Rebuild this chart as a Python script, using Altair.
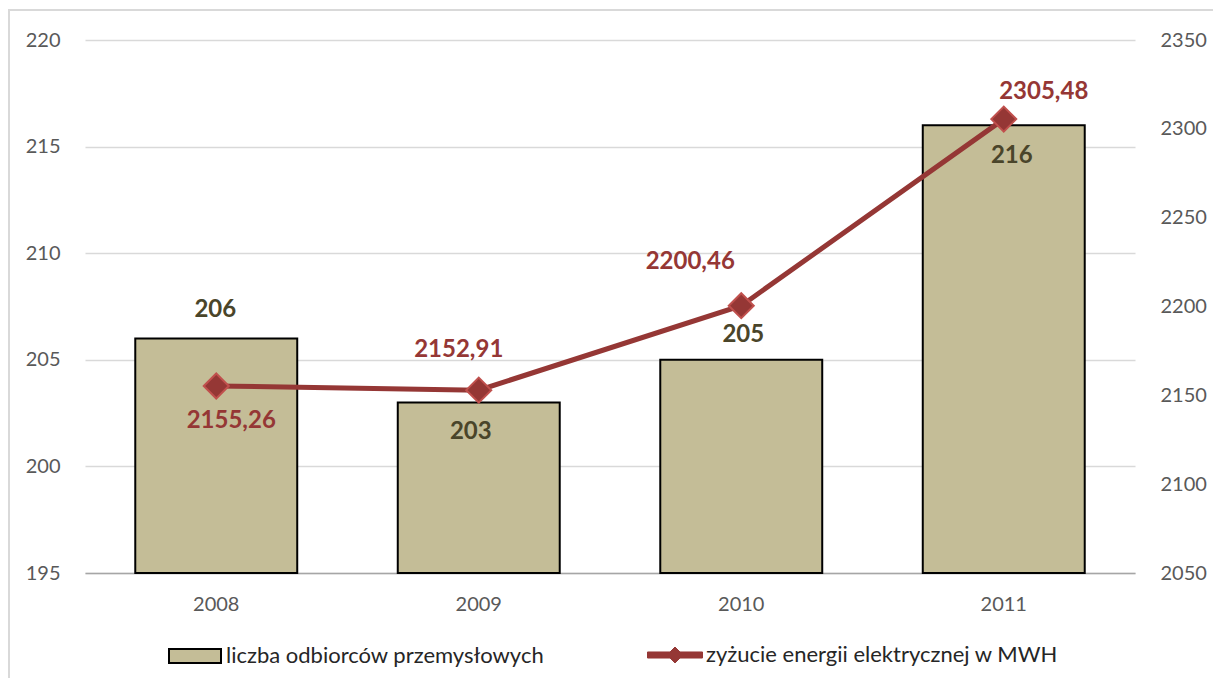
import altair as alt
import pandas as pd

years = ["2008", "2009", "2010", "2011"]
customers = [206, 203, 205, 216]
energy = [2155.26, 2152.91, 2200.46, 2305.48]
bar_name = "liczba odbiorców przemysłowych"
line_name = "zyżucie energii elektrycznej w MWH"
left_ticks = [195, 200, 205, 210, 215, 220]
right_ticks = [2050, 2100, 2150, 2200, 2250, 2300, 2350]

df = pd.DataFrame({"year": years, "customers": customers, "energy": energy})
df["bar_s"] = bar_name
df["line_s"] = line_name

FONT = "Lato"
BAR_FILL = "#C4BD97"
LINE_COL = "#953735"
MARK_STROKE = "#C0504D"
BAR_TXT = "#4A452A"
AXIS_TXT = "#595959"
GRID = "#D9D9D9"

x_enc = alt.X(
    "year:N",
    sort=years,
    scale=alt.Scale(paddingInner=0, paddingOuter=0),
    axis=alt.Axis(
        title=None, labelAngle=0, ticks=False, grid=False,
        domainColor="#A6A6A6", domainWidth=1.5,
        labelFontSize=20, labelColor=AXIS_TXT, labelPadding=21, labelFont=FONT,
    ),
)

y_left = alt.Y(
    "customers:Q",
    scale=alt.Scale(domain=[195, 220], zero=False, nice=False),
    axis=alt.Axis(
        title=None, orient="left", values=left_ticks, grid=True, gridColor=GRID,
        gridWidth=1.5, domain=False, ticks=False, labelPadding=25, format="d",
        labelFontSize=20, labelColor=AXIS_TXT, labelFont=FONT,
    ),
)

y_right = alt.Y(
    "energy:Q",
    scale=alt.Scale(domain=[2050, 2350], zero=False, nice=False),
    axis=alt.Axis(
        title=None, orient="right", values=right_ticks, grid=False,
        domain=False, ticks=False, labelPadding=25, format="d",
        labelFontSize=20, labelColor=AXIS_TXT, labelFont=FONT,
    ),
)

base = alt.Chart(df)

# outer chart frame: top and left edges (the rest lies outside the page)
frame_top = alt.Chart(pd.DataFrame({"k": [0]})).mark_rule(
    stroke=GRID, strokeWidth=2
).encode(x=alt.value(-77), x2=alt.value(1400), y=alt.value(-30))
frame_left = alt.Chart(pd.DataFrame({"k": [0]})).mark_rule(
    stroke=GRID, strokeWidth=2
).encode(x=alt.value(-76), y=alt.value(-30), y2=alt.value(900))

bar_symbol = "M-1,-0.27L1,-0.27L1,0.27L-1,0.27Z"
bars = base.mark_bar(
    fill=BAR_FILL, stroke="black", strokeWidth=2,
    width=alt.RelativeBandSize(0.617),
).encode(
    x=x_enc,
    y=y_left,
    y2=alt.datum(195),
    fill=alt.Fill(
        "bar_s:N",
        scale=alt.Scale(domain=[bar_name], range=[BAR_FILL]),
        legend=alt.Legend(
            title=None, orient="none", legendX=83, legendY=589, padding=0,
            symbolType=bar_symbol, symbolSize=2704, labelOffset=4,
            symbolFillColor=BAR_FILL, symbolStrokeColor="black",
            symbolStrokeWidth=2, symbolOpacity=1, labelLimit=600,
            labelFontSize=22, labelColor="#262626", labelFont=FONT,
        ),
    ),
)


def bar_label(year, dx, dy):
    return base.transform_filter(alt.datum.year == year).mark_text(
        dx=dx, dy=dy, fontSize=24, fontWeight="bold", color=BAR_TXT, font=FONT,
        baseline="middle",
    ).encode(x=x_enc, y=y_left, text=alt.Text("customers:Q"))


bar_layer = alt.layer(
    bars,
    bar_label("2008", -1, -28),
    bar_label("2009", -8, 30),
    bar_label("2010", 2, -25),
    bar_label("2011", 8, 31),
)

line_symbol = ("M-1,-0.11L-0.18,-0.11L0,-0.29L0.18,-0.11L1,-0.11L1,0.11"
               "L0.18,0.11L0,0.29L-0.18,0.11L-1,0.11Z")
line = base.mark_line(strokeWidth=5, color=LINE_COL).encode(
    x=x_enc,
    y=y_right,
    stroke=alt.Stroke(
        "line_s:N",
        scale=alt.Scale(domain=[line_name], range=[LINE_COL]),
        legend=alt.Legend(
            title=None, orient="none", legendX=562, legendY=587, padding=0,
            symbolType=line_symbol, symbolSize=3025, labelOffset=3,
            symbolFillColor=LINE_COL, symbolStrokeColor=MARK_STROKE,
            symbolStrokeWidth=1, symbolOpacity=1, labelLimit=600,
            labelFontSize=22, labelColor="#262626", labelFont=FONT,
        ),
    ),
)

points = base.mark_point(
    shape="diamond", filled=True, size=625, fill=LINE_COL,
    stroke=MARK_STROKE, strokeWidth=2, opacity=1,
).encode(x=x_enc, y=y_right)


def line_label(year, dx, dy):
    return base.transform_filter(alt.datum.year == year).transform_calculate(
        lbl="replace(format(datum.energy, '.2f'), '.', ',')"
    ).mark_text(
        dx=dx, dy=dy, fontSize=24, fontWeight="bold", color=LINE_COL, font=FONT,
        baseline="middle",
    ).encode(x=x_enc, y=y_right, text=alt.Text("lbl:N"))


line_layer = alt.layer(
    line,
    points,
    line_label("2008", 15, 35),
    line_label("2009", -20, -40),
    line_label("2010", -51, -44),
    line_label("2011", 40, -27),
)

chart = alt.layer(frame_top, frame_left, bar_layer, line_layer).resolve_scale(
    y="independent", fill="independent", stroke="independent"
).properties(
    width=1050, height=533,
    autosize=alt.AutoSizeParams(type="none"),
    padding={"left": 77, "top": 32, "right": 78, "bottom": 105},
    view=alt.ViewBackground(stroke="transparent", strokeOpacity=0, strokeWidth=0),
).configure_view(
    stroke="transparent", strokeOpacity=0, strokeWidth=0
).configure_axis(
    domain=False
).configure_axisX(
    domain=True, domainColor="#A6A6A6"
).configure(font=FONT, background="white")

chart.save("out.html", embed_options={"renderer": "svg", "actions": False})
